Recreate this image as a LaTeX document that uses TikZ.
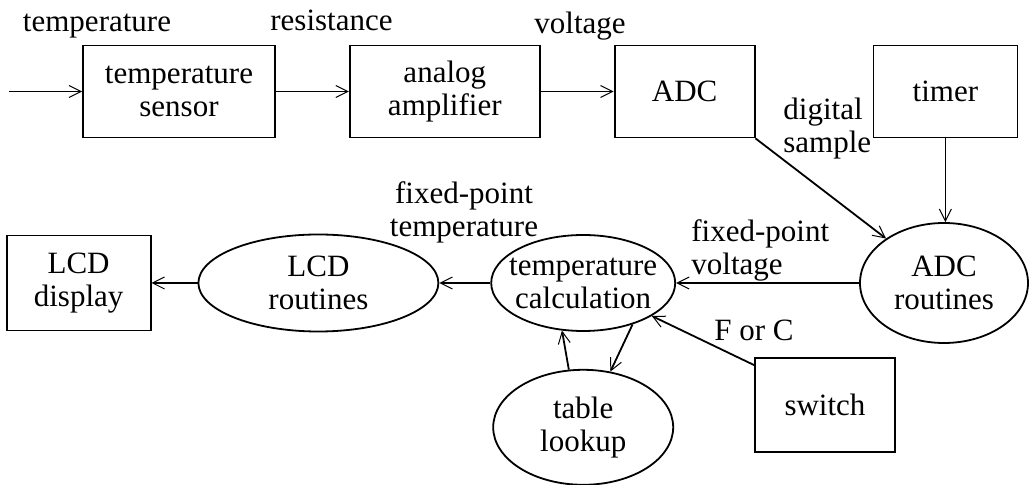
\documentclass[tikz,border=0pt]{standalone}
\usepackage{fontspec}
\setmainfont{Liberation Serif}
\usetikzlibrary{shapes, arrows.meta, positioning}

\begin{document}
\begin{tikzpicture}[
      font=\fontsize{15.5}{16.5}\selectfont,
      block/.style={rectangle, draw=black, line width=0.9pt, minimum height=46pt, align=center, inner sep=0pt},
      proc/.style={ellipse, draw=black, line width=0.9pt, align=center, inner xsep=-8pt, inner ysep=-4pt},
      lbl/.style={inner sep=0pt, align=left},
      flow/.style={->, line width=0.9pt, >={Straight Barb[length=6pt, width=6pt, line width=0.5pt]}}
    ]
      \useasboundingbox (0,0) rectangle (514.5pt,-242.5pt);

      % hardware chain
      \node[block, minimum width=96pt] (tsensor) at (89.5pt,-45.75pt) {temperature\\sensor};
      \node[block, minimum width=95pt, right=36.5pt of tsensor] (amp) {analog\\amplifier};
      \node[block, minimum width=70pt, right=36.5pt of amp] (adc) {ADC};
      \node[block, minimum width=72pt, right=58.5pt of adc] (timer) {timer};
      \coordinate[left=36.5pt of tsensor] (in);

      % software side
      \node[proc, minimum width=84pt, minimum height=60pt] (adcr) at (472pt,-141.5pt) {ADC\\routines};
      \node[proc, minimum width=92pt, minimum height=48pt, left=91.5pt of adcr] (calc) {temperature\\calculation};
      \node[proc, minimum width=120pt, minimum height=48.5pt, left=25.5pt of calc] (lcdr) {LCD\\routines};
      \node[block, minimum width=72pt, minimum height=47.5pt, left=23pt of lcdr] (lcdd) {LCD\\display};
      \node[proc, minimum width=90pt, minimum height=57.5pt, below=18.5pt of calc] (table) {table\\lookup};
      \node[block, minimum width=70pt, minimum height=47pt] (switch) at (412.5pt,-202.5pt) {switch};

      % labels
      \node[lbl] (ltemp) at (48.5pt,-13pt) {temperature};
      \node[lbl] (lres) at (165.75pt,-10.25pt) {resistance};
      \node[lbl] (lvolt) at (290pt,-13.25pt) {voltage};
      \node[lbl, anchor=west] (ldig) at (391.5pt,-64.25pt) {digital\\sample};
      \node[lbl, align=center] (lfpt) at (232pt,-106pt) {fixed-point\\temperature};
      \node[lbl, anchor=west] (lfpv) at (345.5pt,-125pt) {fixed-point\\voltage};
      \node[lbl] (lfc) at (377pt,-165pt) {F or C};

      \draw[flow] (in) -- (tsensor);
      \draw[flow] (tsensor) -- (amp);
      \draw[flow] (amp) -- (adc);
      \draw[flow] (adc.south east) -- (adcr);
      \draw[flow] (timer.south) -- (timer.south |- adcr.north);
      \draw[flow] (adcr) -- (calc);
      \draw[flow] (calc) -- (lcdr);
      \draw[flow] (lcdr) -- (lcdd);
      \draw[flow] (table.104) -- (calc.246);
      \draw[flow] (calc.320) -- (table.64);
      \draw[flow] ([yshift=-4pt]switch.north west) -- (calc);
    \end{tikzpicture}
\end{document}
